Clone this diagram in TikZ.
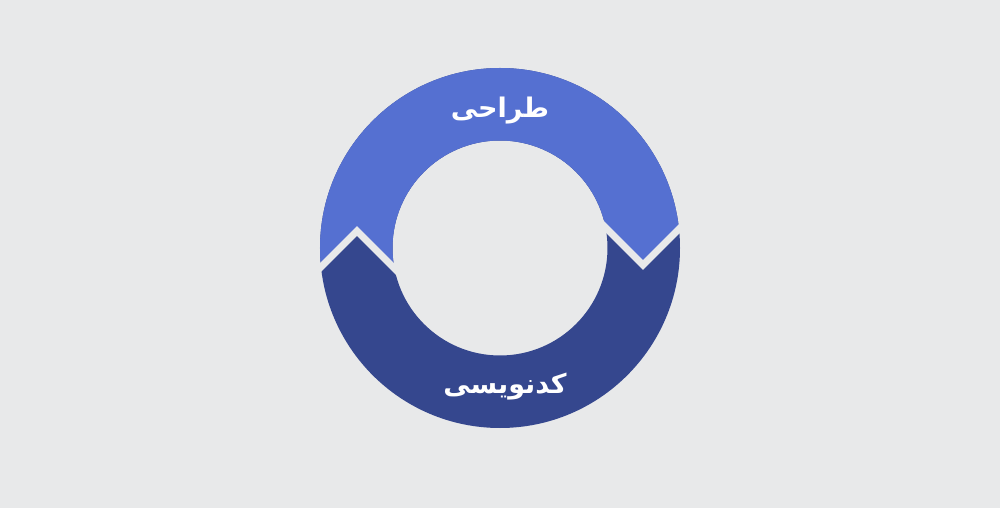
\documentclass[tikz,border=0pt]{standalone}
\usepackage{fontspec}
\newfontfamily\arabicfont[Script=Arabic]{DejaVu Sans}
\TeXXeTstate=1
\definecolor{bgcol}{HTML}{E8E9EA}
\definecolor{topblue}{HTML}{5570D1}
\definecolor{lowblue}{HTML}{35478E}

\begin{document}
\begin{tikzpicture}[x=1pt,y=1pt]
        \fill[bgcol] (-500,-260) rectangle (500,248);
        \begin{scope}[even odd rule]
            \clip (0,0) circle (180pt) (0,0) circle (107.5pt);
            \fill[lowblue] (-200,-200) rectangle (200,200);
            \fill[topblue] (-200,-40) -- (-143,17) -- (-90,-36) -- (90,36) -- (143,-17)
                -- (200,40) -- (200,200) -- (-200,200) -- cycle;
        \end{scope}
        \foreach \s in {1,-1}
        \draw[bgcol, line width=7pt, miter limit=4] (-200*\s,-40*\s) -- (-143*\s,17*\s) -- (-90*\s,-36*\s);
        \node[text=white, font=\arabicfont\bfseries\fontsize{27}{30}\selectfont] (design) at (0,137)
            {\beginR طراحی\endR};
        \node[text=white, font=\arabicfont\bfseries\fontsize{27}{30}\selectfont] (coding) at (5,-139)
            {\beginR کدنویسی\endR};
    \end{tikzpicture}
\end{document}
